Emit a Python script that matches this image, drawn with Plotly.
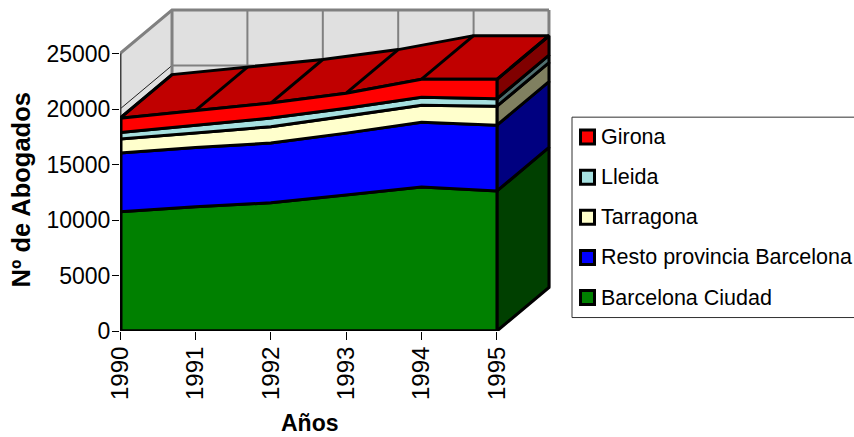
import plotly.graph_objects as go
import numpy as np

years = [1990, 1991, 1992, 1993, 1994, 1995]
barcelona_ciudad = [10740, 11190, 11550, 12260, 12980, 12620]
resto_provincia = [5300, 5350, 5390, 5570, 5840, 5930]
tarragona = [1260, 1300, 1470, 1530, 1530, 1710]
lleida = [580, 670, 780, 720, 720, 670]
girona = [1300, 1350, 1350, 1350, 1620, 1750]

names = ["Barcelona Ciudad", "Resto provincia Barcelona", "Tarragona", "Lleida", "Girona"]
series = [barcelona_ciudad, resto_provincia, tarragona, lleida, girona]
front_colors = ["#008000", "#0000FF", "#FFFFCC", "#A6E0E0", "#FF0000"]
side_colors = ["#004000", "#000080", "#808060", "#507070", "#800000"]
top_color = "#C00000"
y_ticks = [0, 5000, 10000, 15000, 20000, 25000]

DX = 0.69      # depth of the 3-D box, in years
DY = 3926      # depth of the 3-D box, in lawyers
XPAD, YPAD = 0.04, 270
WALL = "#E0E0E0"
GRID = "#808080"
FONT = "Liberation Sans"
W, H = 854, 437
L, R, T, B = 120, 302, 6.5, 105.5

x0, x1 = years[0], years[-1]
ymax = y_ticks[-1]
fig = go.Figure()


def poly(xs, ys, fill=None, color="black", width=0):
    fig.add_trace(go.Scatter(
        x=xs, y=ys, mode="lines",
        fill="toself" if fill else None, fillcolor=fill,
        line=dict(color=color, width=width), showlegend=False,
        hoverinfo="skip"))


# walls
poly([x0, x0 + DX, x0 + DX, x0, x0], [0, DY, ymax + DY, ymax, 0], fill=WALL, color=WALL, width=0.1)
poly([x0 + DX, x1 + DX, x1 + DX, x0 + DX, x0 + DX],
     [DY, DY, ymax + DY, ymax + DY, DY], fill=WALL, color=WALL, width=0.1)

# wall grid
for v in y_ticks[1:-1]:
    poly([x0, x0 + DX], [v, v + DY], color="#202020", width=1)
    poly([x0 + DX, x1 + DX], [v + DY, v + DY], color=GRID, width=2)
for yr in years[1:]:
    poly([yr + DX, yr + DX], [DY, ymax + DY], color=GRID, width=2)
poly([x0, x0 + DX, x1 + DX], [ymax, ymax + DY, ymax + DY], color=GRID, width=3)
poly([x1 + DX, x1 + DX], [DY, ymax + DY], color=GRID, width=3)
poly([x0 + DX, x0 + DX], [DY, ymax + DY], color=GRID, width=3)
poly([x0, x0], [0, ymax], color="#404040", width=3)

stack = np.cumsum(np.array(series), axis=0)
bottoms = np.vstack([np.zeros(len(years)), stack[:-1]])

# right faces
for i in range(len(names)):
    t, b = stack[i][-1], bottoms[i][-1]
    poly([x1, x1 + DX, x1 + DX, x1, x1], [b, b + DY, t + DY, t, b],
         fill=side_colors[i], color="black", width=3)

# top surface
tops = stack[-1]
xs_top = years + [y + DX for y in years[::-1]] + [years[0]]
ys_top = list(tops) + [v + DY for v in tops[::-1]] + [tops[0]]
poly(xs_top, ys_top, fill=top_color, color="black", width=3)
for yr, v in zip(years, tops):
    poly([yr, yr + DX], [v, v + DY], color="black", width=3)

# front faces
for i in range(len(names)):
    xs = years + years[::-1] + [years[0]]
    ys = list(stack[i]) + list(bottoms[i][::-1]) + [stack[i][0]]
    poly(xs, ys, fill=front_colors[i], color="black", width=3)
poly([x0, x0], [0, tops[0]], color="black", width=5)
poly([x0, x1], [0, 0], color="black", width=3)


# legend
def px(x):
    return (x - L) / (W - L - R)


def py(y):
    return (H - B - y) / (H - T - B)


shapes = [dict(type="rect", xref="paper", yref="paper", x0=px(572), x1=px(870), y0=py(318), y1=py(117),
               line=dict(color="#303030", width=1), fillcolor="white", layer="below")]
annotations = []
for k, i in enumerate(range(len(names) - 1, -1, -1)):
    cy = 137 + 40.25 * k
    shapes.append(dict(type="rect", xref="paper", yref="paper",
                       x0=px(580.5), x1=px(594.5), y0=py(cy + 7), y1=py(cy - 7),
                       line=dict(color="black", width=3), fillcolor=front_colors[i]))
    annotations.append(dict(text=names[i], xref="paper", yref="paper", x=px(599), y=py(cy),
                            xanchor="left", yanchor="middle", showarrow=False,
                            font=dict(family=FONT, size=21.5, color="black")))

annotations.append(dict(text="<b>Nº de Abogados</b>", xref="paper", yref="paper", x=px(21), y=py(190.5),
                        textangle=-90, showarrow=False, xanchor="center", yanchor="middle",
                        font=dict(family=FONT, size=25.5, color="black")))
annotations.append(dict(text="<b>Años</b>", xref="paper", yref="paper", x=px(310), y=py(424),
                        showarrow=False, xanchor="center", yanchor="middle",
                        font=dict(family=FONT, size=23, color="black")))

fig.update_layout(
    width=W, height=H, autosize=False,
    margin=dict(l=L, r=R, t=T, b=B, pad=0),
    paper_bgcolor="white", plot_bgcolor="white",
    showlegend=False, shapes=shapes, annotations=annotations,
    xaxis=dict(range=[x0, x1 + DX + XPAD], tickmode="array", tickvals=years, ticktext=[str(y) for y in years],
               tickangle=-90, ticks="outside", ticklen=8, tickcolor="black", tickwidth=1,
               ticklabelstandoff=-3,
               showgrid=False, zeroline=False, showline=False,
               tickfont=dict(family=FONT, size=24, color="black")),
    yaxis=dict(range=[0, ymax + DY + YPAD], tickmode="array", tickvals=y_ticks, ticktext=[str(v) for v in y_ticks],
               ticks="outside", ticklen=7, tickcolor="black", tickwidth=1,
               ticklabelstandoff=-3,
               showgrid=False, zeroline=False, showline=False,
               tickfont=dict(family=FONT, size=23, color="black")),
)
fig.write_html("out.html", config=dict(displayModeBar=False),
               post_script='document.body.style.margin="0";')
